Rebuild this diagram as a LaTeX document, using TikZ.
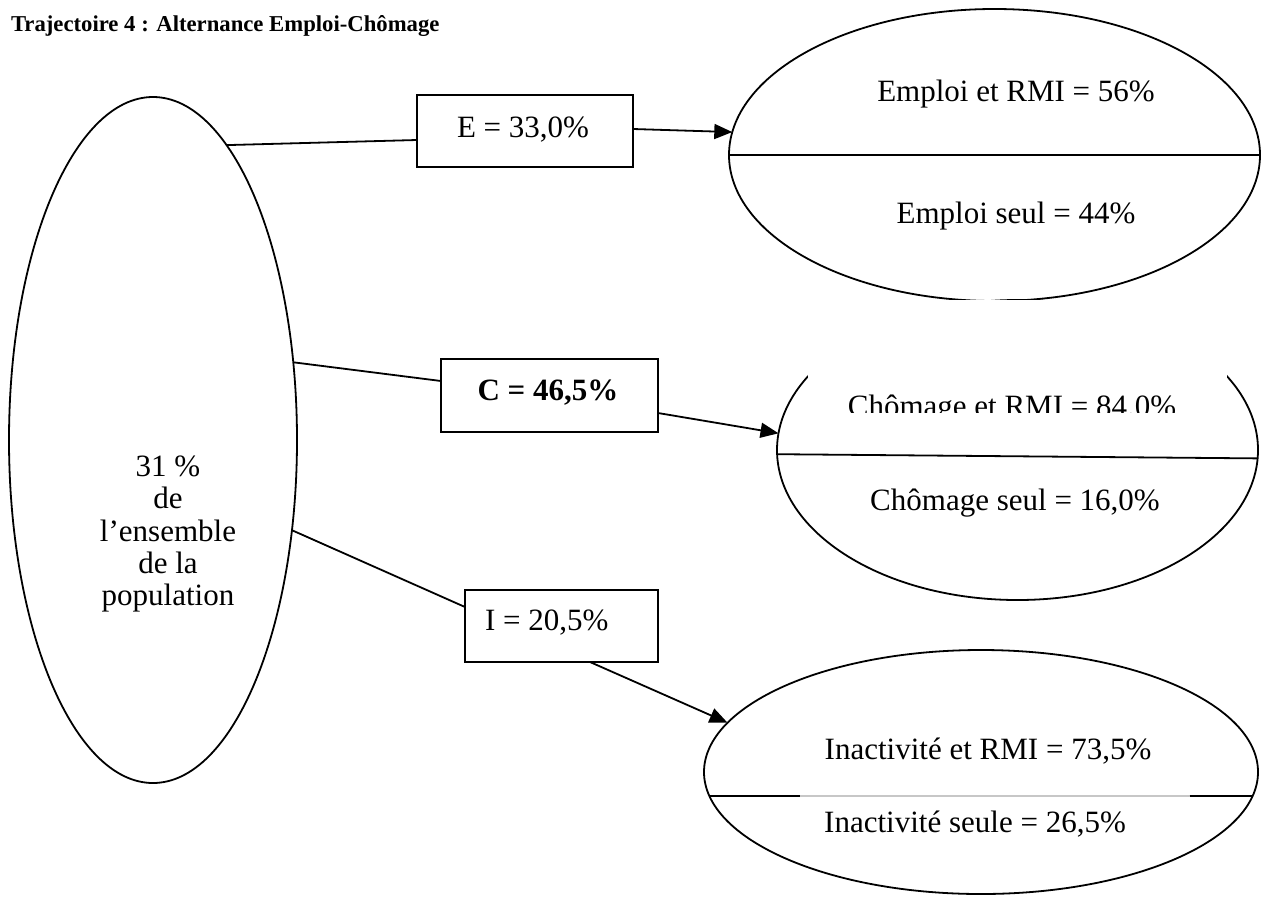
\documentclass[tikz,border=0pt]{standalone}
\usepackage{fontspec}
\setmainfont{Liberation Serif}
\usetikzlibrary{shapes.geometric,arrows.meta}
\begin{document}
\begin{tikzpicture}[x=1pt,y=-1pt,
  every node/.style={inner sep=0pt,outer sep=0pt},
  txt/.style={font=\fontsize{31}{37}\selectfont, anchor=base},
  oval/.style={draw, ellipse, line width=1.8pt, inner sep=0pt},
  box/.style={draw, rectangle, line width=1.8pt, inner sep=0pt},
  conn/.style={line width=1.8pt},
  arr/.style={line width=1.8pt, -{Triangle[length=18pt,width=15pt]}}
]
\useasboundingbox (0,0) rectangle (1265,908);
\node[anchor=base west, font=\fontsize{22.7}{27}\selectfont\bfseries] (title) at (11,31) {Trajectoire 4 : Alternance Emploi-Chômage};

% left ellipse
\node[oval, minimum width=288pt, minimum height=686pt] (L) at (153,440) {};
\node[align=center, font=\fontsize{31}{32.25}\selectfont] (Ltxt) at (168,534) {31 \%\\de\\l’ensemble\\de la\\population};

% right ellipses
\node[oval, minimum width=531pt, minimum height=292pt] (R1) at (994.5,155) {};
\node[oval, minimum width=481pt, minimum height=300pt] (R2) at (1017.5,450) {};
\node[oval, minimum width=554pt, minimum height=244pt] (R3) at (981,772) {};

% boxes
\node[box, minimum width=216pt, minimum height=72pt] (E) at (525,131) {};
\node[box, minimum width=217pt, minimum height=73pt] (C) at (549.5,395.5) {};
\node[box, minimum width=193pt, minimum height=72pt] (I) at (561.5,626) {};
\node[txt] (Et) at (523,137) {E = 33,0\%};
\node[txt, font=\fontsize{31}{37}\selectfont\bfseries] (Ct) at (548,400) {C = 46,5\%};
\node[txt, anchor=base west] (It) at (485,630) {I = 20,5\%};

% connectors
\draw[conn] (L.76) -- ([yshift=-9pt]E.west);
\draw[arr] ([yshift=2pt]E.east) -- (R1.175);
\draw[conn] (L.29) -- ([yshift=14.5pt]C.west);
\draw[arr] ([yshift=-17.5pt]C.east) -- (R2.176);
\draw[conn] (L.-33) -- ([yshift=19pt]I.west);
\draw[arr] ([xshift=28.5pt]I.south) -- (R3.169);

% dividing lines
\draw[conn] (R1.west) -- (R1.east);
\draw[conn] (R2.181) -- (R2.-2);
\path (R3.185) -- (R3.-5) coordinate[pos=0.167] (g1) coordinate[pos=0.884] (g2);
\draw[conn, black!22] (g1) -- (g2);
\draw[conn] (R3.185) -- (g1);
\draw[conn] (g2) -- (R3.-5);

% texts in ellipses
\begin{scope}
\clip (808,300) rectangle (1227,412);
\fill[white] (808,300) rectangle (1227,412);
\node[txt] (R2a) at (1012,416) {Chômage et RMI = 84.0\%};
\end{scope}
\node[txt] (R1a) at (1016,101) {Emploi et RMI = 56\%};
\node[txt] (R1b) at (1016,223) {Emploi seul = 44\%};
\node[txt] (R2b) at (1015,510) {Chômage seul = 16,0\%};
\node[txt] (R3a) at (988,759) {Inactivité et RMI = 73,5\%};
\node[txt] (R3b) at (975,832) {Inactivité seule = 26,5\%};
\end{tikzpicture}
\end{document}
